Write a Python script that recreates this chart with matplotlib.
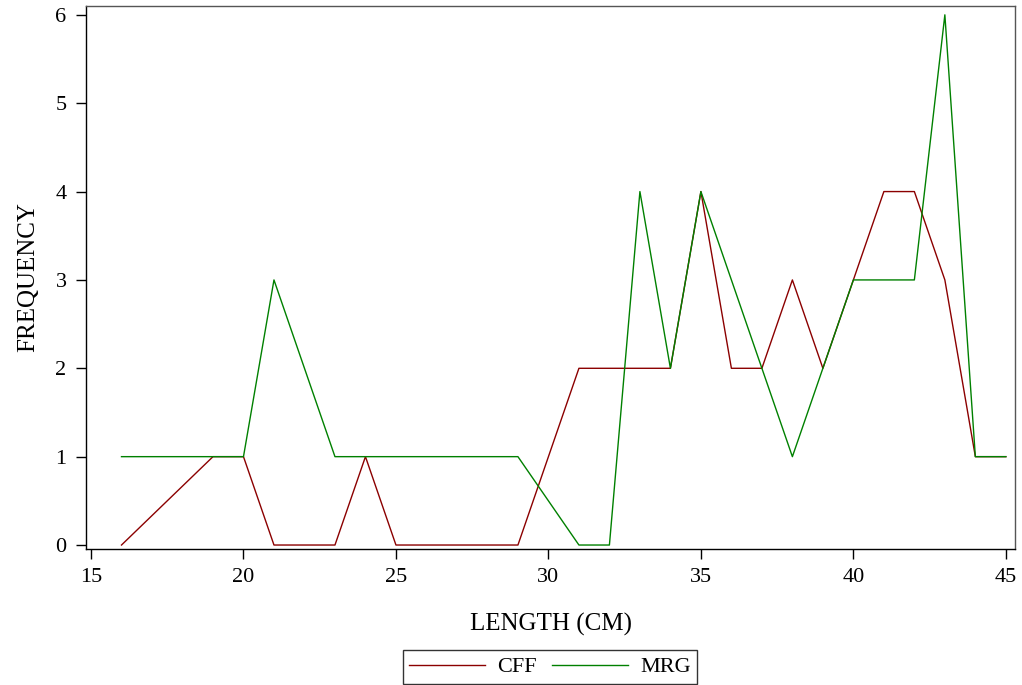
import matplotlib
matplotlib.use("Agg")
import matplotlib.pyplot as plt

cff_x = [16, 19, 20, 21, 23, 24, 25, 29, 31, 34, 35, 36, 37, 38, 39, 40, 41, 42, 43, 44, 45]
cff_y = [0, 1, 1, 0, 0, 1, 0, 0, 2, 2, 4, 2, 2, 3, 2, 3, 4, 4, 3, 1, 1]
mrg_x = [16, 20, 21, 23, 29, 31, 32, 33, 34, 35, 37, 38, 39, 40, 42, 43, 44, 45]
mrg_y = [1, 1, 3, 1, 1, 0, 0, 4, 2, 4, 2, 1, 2, 3, 3, 6, 1, 1]
x_ticks = [15, 20, 25, 30, 35, 40, 45]
y_ticks = [0, 1, 2, 3, 4, 5, 6]

plt.rcParams['font.family'] = ['Liberation Serif', 'DejaVu Serif']

fig = plt.figure(figsize=(10.22, 6.85), dpi=100)
ax = fig.add_axes([86/1022, 1-549/685, (1015-86)/1022, (549-6)/685])

l1, = ax.plot(cff_x, cff_y, color='#8b0000', lw=1.0, label='CFF')
l2, = ax.plot(mrg_x, mrg_y, color='#008000', lw=1.0, label='MRG')

ax.set_xlim(14.836, 45.3)
ax.set_ylim(-0.045, 6.10)
ax.set_xticks(x_ticks)
ax.set_yticks(y_ticks)
ax.tick_params(direction='out', length=7, width=1, labelsize=16, colors='black', pad=7)
for s in ax.spines.values():
    s.set_linewidth(1.0)
ax.spines['top'].set_color('#555555')
ax.spines['right'].set_color('#555555')

ax.set_xlabel('LENGTH (CM)', fontsize=18, labelpad=18)
ax.set_ylabel('FREQUENCY', fontsize=18, labelpad=12)

leg = fig.legend(handles=[l1, l2], loc='center', bbox_to_anchor=(550/1022, 1-667/685),
                 ncol=2, frameon=True, fontsize=16, fancybox=False, edgecolor='black',
                 handlelength=3.4, columnspacing=0.7, handletextpad=0.55, borderpad=0.3,
                 borderaxespad=0)
leg.get_frame().set_linewidth(1.0)

fig.savefig('out.png', dpi=100)
